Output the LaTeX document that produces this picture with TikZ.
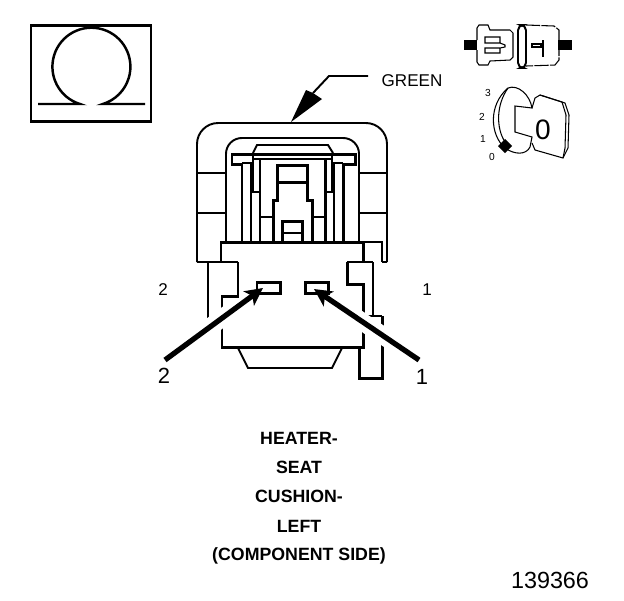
\documentclass[tikz,border=0pt]{standalone}
\usepackage{fontspec}
\setmainfont{Liberation Sans}
\usetikzlibrary{arrows.meta}
\tikzset{
	thinline/.style={line width=1.1pt},
	heavyline/.style={line width=1.7pt},
	hairline/.style={line width=0.6pt},
	pinarrow/.style={line width=3pt,-{Stealth[length=10pt,width=10pt,inset=2.5pt]}},
	halo/.style={white,line width=10pt,shorten >=18pt},
	lbl/.style={inner sep=0pt,font=\fontsize{9.7}{11}\selectfont},
	caption/.style={inner sep=0pt,font=\fontsize{10.1}{12}\selectfont\bfseries},
	dial/.style={inner sep=0pt,font=\fontsize{5.8}{7}\selectfont}
}
\begin{document}
\begin{tikzpicture}[>=latex,x=0.02cm,y=0.02cm]
\useasboundingbox (0,0) rectangle (624,-600);
% Omega box
\draw[heavyline] (31,-25) rectangle (151,-121);
\draw[line width=1.4pt] (38,-104) -- (80,-104) arc[start angle=253,end angle=-73,radius=39] -- (145,-104);
% Hood
\draw[thinline,rounded corners=12pt] (197,-262) -- (197,-123) -- (387,-123) -- (387,-262);
\draw[thinline,rounded corners=9pt] (226,-242) -- (226,-138) -- (359,-138) -- (359,-242);
\draw[thinline] (197,-173) -- (226,-173);
\draw[thinline] (197,-213) -- (226,-213);
\draw[thinline] (359,-173) -- (387,-173);
\draw[thinline] (359,-213) -- (387,-213);
\draw[thinline] (197,-262) -- (221,-262);
\draw[thinline] (382,-262) -- (387,-262);
% Flange and latch
\draw[heavyline] (242,-242) -- (242,-164) -- (232,-164) -- (232,-154) -- (355,-154) -- (355,-164) -- (343,-164) -- (343,-242);
\draw[thinline] (242,-163) -- (251,-163) -- (251,-242);
\draw[thinline] (343,-163) -- (334,-163) -- (334,-242);
\draw[heavyline] (260,-242) -- (260,-159);
\draw[heavyline] (325,-242) -- (325,-159);
\draw[thinline] (242,-242) -- (251,-242);
\draw[thinline] (334,-242) -- (343,-242);
\draw[thinline] (253,-153) -- (257,-145) -- (328,-145) -- (333,-153);
\draw[thinline] (253,-159) -- (332,-159);
\draw[thinline] (253,-153) -- (253,-192) -- (260,-192);
\draw[thinline] (332,-153) -- (332,-192) -- (325,-192);
\draw[thinline] (260,-217) -- (273,-217);
\draw[thinline] (312,-217) -- (325,-217);
% Centre blade
\draw[heavyline] (273,-242) -- (273,-200) -- (277,-200) -- (277,-165) -- (307,-165) -- (307,-200) -- (312,-200) -- (312,-242);
\draw[heavyline] (277,-182) -- (307,-182);
\draw[heavyline] (282,-242) -- (282,-221) -- (302,-221) -- (302,-242);
\draw[thinline] (282,-233) -- (302,-233);
% Body
\draw[heavyline] (221,-262) -- (221,-242) -- (363,-242);
\draw[thinline] (363,-242) -- (382,-242) -- (382,-262);
\draw[heavyline] (363,-242) -- (363,-262);
\draw[thinline] (221,-262) -- (238,-262);
\draw[heavyline] (238,-262) -- (238,-296) -- (222,-296) -- (222,-347) -- (363,-347) -- (363,-284) -- (347,-284) -- (347,-262);
\draw[thinline] (347,-262) -- (373,-262);
\draw[thinline] (208,-262) -- (208,-320);
\draw[thinline] (373,-262) -- (373,-315);
\draw[thinline] (365,-316) -- (382,-316);
\draw[heavyline] (382,-316) -- (382,-378) -- (359,-378) -- (359,-347);
\draw[thinline] (238,-348) -- (248,-368) -- (332,-368) -- (342,-348);
% Pins
\draw[heavyline] (257,-282) rectangle (280,-293);
\draw[heavyline] (305,-282) rectangle (328,-293);
% Pin arrows
\coordinate (start2) at (165,-360);
\coordinate (tip2) at (263,-288);
\coordinate (start1) at (419,-360);
\coordinate (tip1) at (314,-289);
\draw[halo] (start2) -- (tip2);
\draw[halo] (start1) -- (tip1);
\draw[pinarrow] (start2) -- (tip2);
\draw[pinarrow] (start1) -- (tip1);
% Green arrow
\coordinate (wire) at (368,-76);
\coordinate (bend) at (329,-76);
\coordinate (tip) at (291,-122);
\draw[thinline] (wire) -- (bend) -- (313,-93);
\fill (tip) -- (306,-90) -- (313,-93) -- (322,-99) -- cycle;
% Switch icon
\fill (464,-40) rectangle (477,-50);
\fill (558,-40) rectangle (572,-50);
\draw[hairline] (477,-40) -- (477,-28) -- (479,-25) -- (488,-25) -- (490,-30) -- (510,-30) -- (513,-33) -- (513,-57) -- (510,-60) -- (490,-61) -- (488,-65) -- (479,-65) -- (477,-62) -- (477,-50);
\draw[hairline] (500,-43) -- (485,-43) -- (485,-37) -- (500,-37) -- (500,-43) -- (505,-45) -- (505,-47) -- (500,-48) -- (485,-48) -- (485,-53) -- (500,-53) -- (500,-48);
\draw[thinline,rounded corners=3pt] (518,-25) rectangle (526,-68);
\draw[hairline,dash pattern=on 8pt off 0.8pt] (526,-25) -- (554,-26) -- (559,-30) -- (559,-60) -- (555,-65) -- (526,-66);
\draw[hairline] (543,-40) -- (543,-57);
\draw[hairline] (532,-44) rectangle (541,-47);
% Key icon
\draw[hairline] (505,-148) .. controls (490,-135) and (488,-105) .. (508,-88) .. controls (518,-84) and (530,-95) .. (532,-108) -- (515,-106) -- (515,-132) -- (532,-137) -- (530,-147) .. controls (526,-155) and (515,-155) .. (505,-148);
\draw[hairline] (508,-88) .. controls (496,-105) and (496,-128) .. (505,-142);
\draw[hairline] (532,-108) -- (535,-98) -- (540,-95) -- (565,-103) -- (569,-115) -- (568,-148) -- (563,-158) -- (535,-150) -- (532,-143);
\draw[hairline] (540,-95) -- (562,-102) -- (566,-115) -- (565,-148) -- (563,-158);
\fill (505,-139) -- (512,-146) -- (505,-153) -- (498,-146) -- cycle;
% Labels
\node[lbl] (green) at (412,-81) {GREEN};
\node[lbl] (cavleft) at (163,-290) {2};
\node[lbl] (cavright) at (427,-290) {1};
\node[inner sep=0pt,font=\fontsize{12.5}{14}\selectfont] (pin2) at (164,-376) {2};
\node[inner sep=0pt,font=\fontsize{12.5}{14}\selectfont] (pin1) at (422,-377) {1};
\node[dial] (dial3) at (488,-93) {3};
\node[dial] (dial2) at (482,-117) {2};
\node[dial] (dial1) at (483,-139) {1};
\node[dial] (dial0) at (492,-157) {0};
\node[inner sep=0pt,font=\fontsize{16}{18}\selectfont] (keyzero) at (543,-130) {0};
\node[caption] (cap1) at (299,-438) {HEATER-};
\node[caption] (cap2) at (299,-467) {SEAT};
\node[caption] (cap3) at (299,-496) {CUSHION-};
\node[caption] (cap4) at (299,-526) {LEFT};
\node[caption] (cap5) at (299,-556) {(COMPONENT SIDE)};
\node[inner sep=0pt,font=\fontsize{13.3}{15}\selectfont] (figno) at (550,-580) {139366};
\end{tikzpicture}
\end{document}
